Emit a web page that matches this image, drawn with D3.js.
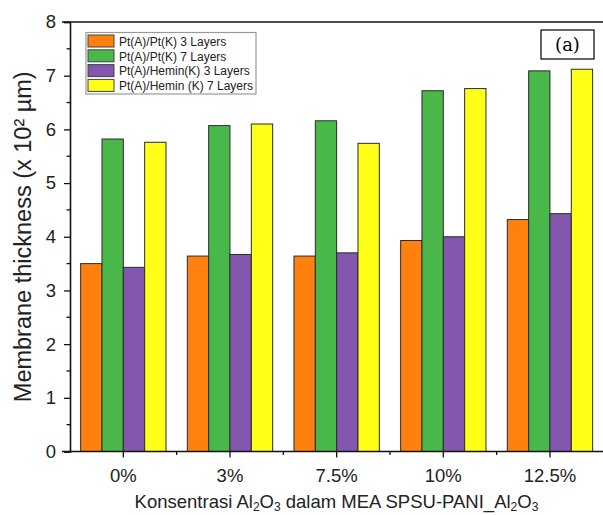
<!DOCTYPE html>
<html>
<head>
<meta charset="utf-8">
<script src="https://cdn.jsdelivr.net/npm/d3@7"></script>
<style>
  html, body { margin: 0; padding: 0; background: #fff; }
  svg { display: block; }
</style>
</head>
<body>
<svg id="chart" width="603" height="515"></svg>
<script>
// Al2O3 loading categories and membrane thickness (x 10^2 µm) per electrode configuration
const categories = ["0%", "3%", "7.5%", "10%", "12.5%"];
const seriesNames = [
  "Pt(A)/Pt(K) 3 Layers",
  "Pt(A)/Pt(K) 7 Layers",
  "Pt(A)/Hemin(K) 3 Layers",
  "Pt(A)/Hemin (K) 7 Layers"
];
const ptPt3 = [3.50, 3.64, 3.64, 3.93, 4.32];
const ptPt7 = [5.82, 6.07, 6.16, 6.72, 7.09];
const ptHemin3 = [3.43, 3.67, 3.70, 4.00, 4.43];
const ptHemin7 = [5.76, 6.10, 5.74, 6.76, 7.12];
const yTicks = [0, 1, 2, 3, 4, 5, 6, 7, 8];
const colors = ["#ff800e", "#49b749", "#8257ad", "#ffff17"];

const seriesValues = [ptPt3, ptPt7, ptHemin3, ptHemin7];

const svg = d3.select("#chart");
const margin = { left: 70, right: 0, top: 22, bottom: 63 };
const W = 603, H = 515;
const x0 = margin.left, x1 = W - margin.right;
const yTop = margin.top, yBot = H - margin.bottom - 0.5;

const x = d3.scaleBand().domain(categories).range([x0, x1 + 0.3])
  .paddingInner(0.2).paddingOuter(0.1);
const xs = d3.scaleBand().domain(d3.range(seriesNames.length)).range([0, x.bandwidth()]);
const y = d3.scaleLinear().domain([0, 8]).range([yBot, yTop]);

// bars
const groups = svg.append("g").selectAll("g")
  .data(categories)
  .join("g")
  .attr("transform", d => `translate(${x(d)},0)`);

groups.selectAll("rect")
  .data((c, i) => seriesValues.map((vals, s) => ({ s, v: vals[i] })))
  .join("rect")
  .attr("x", d => xs(d.s))
  .attr("width", xs.bandwidth())
  .attr("y", d => y(d.v))
  .attr("height", d => y(0) - y(d.v))
  .attr("fill", d => colors[d.s])
  .attr("stroke", "#2b2b2b")
  .attr("stroke-width", 1);

// frame line on top (extends slightly past the y axis)
const frame = svg.append("g").attr("stroke", "#111").attr("stroke-width", 1.6);
frame.append("line").attr("x1", 62).attr("x2", W).attr("y1", yTop).attr("y2", yTop);

// y axis: major ticks with labels, minor ticks at halves
const yAxis = d3.axisLeft(y).tickValues(yTicks).tickSize(6).tickPadding(8)
  .tickFormat(d3.format("d"));
const gy = svg.append("g").attr("transform", `translate(${x0},0)`).call(yAxis);
gy.select(".domain").attr("stroke", "#111").attr("stroke-width", 1.6);
gy.selectAll(".tick line").attr("stroke", "#111").attr("stroke-width", 1.3);
gy.selectAll(".tick text")
  .attr("font-family", "Liberation Sans, Arial, sans-serif")
  .attr("font-size", 18.5).attr("fill", "#222");
const minorY = d3.range(0.5, 8, 1);
gy.selectAll(".minor").data(minorY).join("line")
  .attr("class", "minor")
  .attr("x1", 0).attr("x2", -3.5)
  .attr("y1", d => y(d)).attr("y2", d => y(d))
  .attr("stroke", "#111").attr("stroke-width", 1.3);

// x axis: ticks at category centres, minor ticks between groups
const xAxis = d3.axisBottom(x).tickSize(6).tickPadding(11).tickSizeOuter(0);
const gx = svg.append("g").attr("transform", `translate(0,${yBot})`).call(xAxis);
gx.select(".domain").remove();
gx.append("line").attr("x1", 62).attr("x2", W).attr("y1", 0).attr("y2", 0)
  .attr("stroke", "#111").attr("stroke-width", 1.6);
gx.selectAll(".tick line").attr("stroke", "#111").attr("stroke-width", 1.3);
gx.selectAll(".tick text")
  .attr("font-family", "Liberation Sans, Arial, sans-serif")
  .attr("font-size", 18.5).attr("fill", "#222");
const bounds = categories.slice(1).map(c => x(c) - x.step() * x.paddingInner() / 2);
gx.selectAll(".minor").data(bounds).join("line")
  .attr("class", "minor")
  .attr("x1", d => d).attr("x2", d => d)
  .attr("y1", 0).attr("y2", 3.5)
  .attr("stroke", "#111").attr("stroke-width", 1.3);

// axis titles
svg.append("text")
  .attr("transform", `translate(23,${(yTop + yBot) / 2}) rotate(-90)`)
  .attr("text-anchor", "middle")
  .attr("dominant-baseline", "central")
  .attr("font-family", "Liberation Sans, Arial, sans-serif")
  .attr("font-size", 23.5).attr("fill", "#222")
  .text("Membrane thickness (x 10² µm)");

const xt = svg.append("text")
  .attr("x", (x0 + x1) / 2).attr("y", 508)
  .attr("text-anchor", "middle")
  .attr("font-family", "Liberation Sans, Arial, sans-serif")
  .attr("font-size", 18.5).attr("fill", "#222");
const parts = [
  ["Konsentrasi Al", 0], ["2", 1], ["O", 0], ["3", 1],
  [" dalam MEA SPSU-PANI_Al", 0], ["2", 1], ["O", 0], ["3", 1]
];
parts.forEach(([t, sub]) => {
  xt.append("tspan")
    .attr("font-size", sub ? 12 : 18.5)
    .attr("baseline-shift", sub ? "-25%" : null)
    .text(t);
});

// legend
const lg = svg.append("g").attr("transform", "translate(86,32.5)");
lg.append("rect").attr("width", 170).attr("height", 61.5)
  .attr("fill", "#fff").attr("stroke", "#9a9a9a").attr("stroke-width", 1.2);
const rows = lg.selectAll("g.row").data(seriesNames).join("g")
  .attr("class", "row")
  .attr("transform", (d, i) => `translate(2,${2.5 + i * 14.8})`);
rows.append("rect").attr("width", 26).attr("height", 12)
  .attr("fill", (d, i) => colors[i]).attr("stroke", "#444").attr("stroke-width", 1);
rows.append("text").attr("x", 31).attr("y", 10.8)
  .attr("font-family", "Liberation Sans, Arial, sans-serif")
  .attr("font-size", 12).attr("fill", "#222")
  .text(d => d);

// panel label
const pl = svg.append("g").attr("transform", "translate(541,30)");
pl.append("rect").attr("width", 53).attr("height", 29)
  .attr("fill", "#fff").attr("stroke", "#000").attr("stroke-width", 1.2);
pl.append("text").attr("x", 26.5).attr("y", 21)
  .attr("text-anchor", "middle")
  .attr("font-family", "DejaVu Serif, Liberation Serif, serif")
  .attr("font-size", 18).attr("fill", "#000")
  .text("(a)");
</script>
</body>
</html>
